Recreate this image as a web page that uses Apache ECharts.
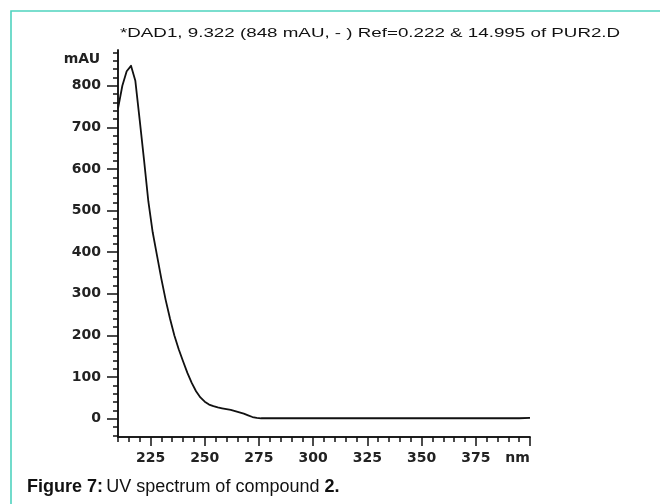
<!DOCTYPE html>
<html>
<head>
<meta charset="utf-8">
<script src="https://cdn.jsdelivr.net/npm/echarts@6/dist/echarts.min.js"></script>
<style>
html,body{margin:0;padding:0;background:#fff;}
#c{width:660px;height:504px;}
</style>
</head>
<body>
<div id="c"></div>
<script>
// Wavelength (nm) and absorbance (mAU)
var wavelengths = [210, 212, 214, 216, 218, 220, 222, 224, 226, 228, 230, 232, 234, 236, 238, 240, 242, 244, 246, 248, 250, 252, 254, 256, 258, 260, 262, 264, 266, 268, 270, 272, 274, 276, 280, 300, 320, 340, 360, 380, 395, 400];
var absorbance  = [745, 800, 835, 848, 812, 718, 622, 522, 448, 392, 336, 285, 240, 200, 167, 138, 110, 86, 66, 51, 41, 34, 30, 27, 25, 23, 21, 18, 15, 12, 8, 4, 2, 1, 1, 1, 1, 1, 1, 1, 1, 2];

var xMajorTicks = [225, 250, 275, 300, 325, 350, 375, 400];
var xMinorTicks = [];
for (var v = 210; v <= 400; v += 5) xMinorTicks.push(v);
var yMajorTicks = [0, 100, 200, 300, 400, 500, 600, 700, 800];
var yMinorTicks = [];
for (var w = -40; w <= 880; w += 20) yMinorTicks.push(w);

var titleText = '*DAD1, 9.322 (848 mAU, - ) Ref=0.222 & 14.995 of PUR2.D';
var yUnit = 'mAU';
var xUnit = 'nm';

var data = wavelengths.map(function (x, i) { return [x, absorbance[i]]; });

var chart = echarts.init(document.getElementById('c'), null, {renderer: 'canvas'});
var SANS = 'Liberation Sans, Arial, sans-serif';
var WIDE = 'DejaVu Sans, sans-serif';
var axisLine = {show: true, onZero: false, lineStyle: {color: '#111', width: 1.5}};
var labelStyle = {color: '#222', fontFamily: WIDE, fontSize: 14, fontWeight: 'bold'};

chart.setOption({
  animation: false,
  backgroundColor: '#fff',
  grid: {left: 118, right: 130, top: 50, bottom: 67, containLabel: false},
  xAxis: [
    {
      type: 'value', min: 210, max: 400, position: 'bottom',
      axisLine: axisLine,
      axisTick: {show: true, customValues: xMinorTicks, length: 5, lineStyle: {color: '#111', width: 1.5}},
      axisLabel: {show: false},
      splitLine: {show: false}
    },
    {
      type: 'value', min: 210, max: 400, position: 'bottom',
      axisLine: axisLine,
      axisTick: {show: true, customValues: xMajorTicks, length: 9, lineStyle: {color: '#111', width: 1.5}},
      axisLabel: Object.assign({
        customValues: xMajorTicks, margin: 14,
        formatter: function (val) { return val === 400 ? '{nm|' + xUnit + '}' : String(val); },
        rich: {nm: {fontFamily: WIDE, fontSize: 14, fontWeight: 'bold', color: '#222', padding: [0, 25, 0, 0]}}
      }, labelStyle),
      splitLine: {show: false}
    }
  ],
  yAxis: [
    {
      type: 'value', min: -44, max: 886, position: 'left',
      axisLine: axisLine,
      axisTick: {show: true, customValues: yMinorTicks, length: 5, lineStyle: {color: '#111', width: 1.5}},
      axisLabel: {show: false},
      splitLine: {show: false}
    },
    {
      type: 'value', min: -44, max: 886, position: 'left',
      axisLine: axisLine,
      axisTick: {show: true, customValues: yMajorTicks, length: 11, lineStyle: {color: '#111', width: 1.5}},
      axisLabel: Object.assign({customValues: yMajorTicks, margin: 17}, labelStyle),
      splitLine: {show: false}
    }
  ],
  series: [{
    type: 'line',
    xAxisIndex: 0, yAxisIndex: 0,
    data: data,
    showSymbol: false,
    smooth: false,
    lineStyle: {color: '#111', width: 1.8, join: 'round'},
    silent: true
  }],
  graphic: [
    {type: 'rect', shape: {x: 11, y: 11, width: 700, height: 600}, style: {fill: 'none', stroke: '#4fd3bf', lineWidth: 1.6}, silent: true},
    {type: 'text', x: 120, y: 33.5, scaleX: 1.39, style: {text: titleText, fontFamily: SANS, fontSize: 13.5, fill: '#111', textAlign: 'left', textVerticalAlign: 'middle'}},
    {type: 'text', x: 100, y: 59, style: {text: yUnit, fontFamily: WIDE, fontSize: 14, fontWeight: 'bold', fill: '#222', textAlign: 'right', textVerticalAlign: 'middle'}},
    {type: 'text', x: 27, y: 487, style: {
      text: '{b|Figure 7:} {n|UV spectrum of compound }{b|2.}',
      textVerticalAlign: 'middle',
      rich: {
        b: {fontFamily: SANS, fontSize: 18, fontWeight: 'bold', fill: '#111'},
        n: {fontFamily: SANS, fontSize: 18, fontWeight: 'normal', fill: '#111'}
      }
    }}
  ]
});
</script>
</body>
</html>
